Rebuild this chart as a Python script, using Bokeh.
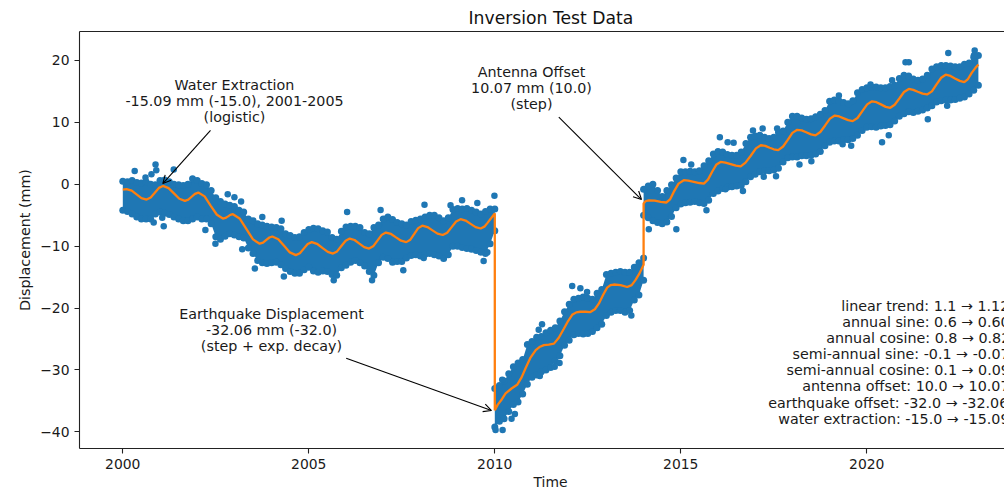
from bokeh.plotting import figure
from bokeh.models import LinearAxis, FixedTicker, Arrow, OpenHead, Title
from bokeh.core.properties import value
from bokeh.embed import file_html
from bokeh.resources import INLINE

FONT = "DejaVu Sans"
BLUE = "#1f77b4"
ORANGE = "#ff7f0e"

# dense observation band: upper and lower reach of the dots, one column every 1/8 year
pre_eq_hi = [0.5,0.4,0.6,0.3,0.2,0.4,0.0,-0.1,
             0.6,0.7,0.4,0.0,-0.1,-0.2,0.0,0.9,
             0.6,0.1,-0.1,-1.0,-2.2,-2.8,-3.2,-3.4,
             -3.6,-4.2,-4.5,-5.6,-5.9,-6.4,-6.6,-6.8,
             -6.9,-7.0,-7.2,-8.0,-8.3,-8.6,-8.5,-7.8,
             -7.3,-7.1,-7.2,-7.5,-7.7,-8.6,-8.9,-7.6,
             -6.9,-6.8,-6.8,-7.0,-7.8,-8.0,-7.0,-6.6,
             -5.6,-5.3,-5.7,-6.2,-6.4,-6.6,-6.0,-5.8,
             -5.6,-5.3,-5.0,-5.0,-5.4,-5.9,-5.4,-4.1,
             -3.9,-4.0,-3.9,-4.2,-4.5,-4.8,-4.4,-4.0,
             -4.0]
pre_eq_lo = [-4.2,-4.4,-4.8,-5.3,-5.6,-5.6,-5.6,-4.8,
             -4.5,-4.7,-4.9,-5.3,-5.6,-5.9,-5.9,-5.6,
             -5.3,-5.6,-5.6,-6.4,-8.5,-8.9,-8.4,-8.0,
             -8.2,-8.5,-8.7,-10.3,-11.2,-12.3,-12.7,-12.8,
             -12.7,-12.6,-13.0,-13.6,-14.1,-14.4,-14.4,-13.8,
             -13.4,-14.0,-14.2,-14.0,-14.1,-14.6,-14.7,-13.5,
             -13.1,-12.6,-12.3,-12.7,-13.2,-14.1,-14.7,-12.7,
             -11.8,-12.0,-12.6,-12.5,-12.5,-11.9,-11.5,-11.4,
             -11.6,-11.3,-11.2,-11.4,-11.6,-12.0,-11.4,-10.0,
             -10.0,-10.2,-10.4,-10.5,-10.7,-11.0,-11.2,-9.6,
             -7.5]
post_eq_hi = [-33.0,-32.5,-31.8,-30.6,-29.5,-28.9,-28.3,-25.9,
              -25.4,-24.7,-24.6,-24.0,-23.6,-23.2,-22.1,-20.6,
              -19.4,-18.6,-18.4,-18.2,-18.4,-18.6,-17.6,-17.0,
              -14.6,-14.4,-14.2,-14.1,-14.2,-14.2,-13.4,-12.7,
              -11.9]
post_eq_lo = [-39.2,-38.3,-37.9,-36.7,-35.6,-35.2,-33.9,-32.3,
              -31.2,-30.8,-30.3,-30.0,-29.6,-28.5,-27.7,-26.0,
              -25.2,-24.3,-24.1,-24.2,-24.1,-23.8,-23.2,-22.6,
              -21.2,-20.7,-20.4,-20.4,-20.7,-20.4,-18.7,-17.9,
              -15.5]
post_ant_hi = [-0.8,-0.3,0.0,-1.0,-2.0,-1.0,-0.1,1.0,
               2.0,2.0,2.1,2.0,2.2,3.0,3.8,4.9,
               5.3,5.2,4.8,4.7,4.7,5.2,6.6,7.6,
               7.8,7.9,7.6,7.4,7.6,8.4,8.6,10.0,
               11.0,11.0,10.7,10.5,10.6,10.9,11.3,11.9,
               13.4,13.6,13.5,13.2,13.0,13.5,14.8,15.3,
               15.6,15.7,15.7,15.6,15.6,15.8,16.0,17.1,
               17.6,17.5,17.0,16.8,17.0,17.6,18.6,19.0,
               19.2,19.2,19.1,19.0,19.0,19.4,19.6,20.5,
               20.8]
post_ant_lo = [-5.0,-5.4,-5.9,-6.2,-6.4,-6.1,-5.2,-3.8,
               -3.2,-3.0,-2.9,-2.8,-3.0,-3.1,-2.6,-1.5,
               -1.1,-0.7,-0.5,-0.4,-0.3,-0.2,0.4,1.2,
               1.6,2.0,2.2,2.2,2.3,2.6,3.6,4.3,
               4.4,4.4,4.6,4.6,4.7,4.9,5.3,6.2,
               6.8,7.0,7.0,7.2,7.2,7.4,7.9,8.7,
               9.2,9.3,9.2,9.4,9.5,9.6,10.2,11.0,
               11.4,11.7,11.6,11.8,12.0,12.3,12.7,13.3,
               13.5,13.6,13.6,13.7,13.9,14.1,14.6,15.2,
               16.0]
pre_eq_t = [2000 + k / 8 for k in range(len(pre_eq_hi))]
post_eq_t = [2010 + k / 8 for k in range(len(post_eq_hi))]
post_ant_t = [2014 + k / 8 for k in range(len(post_ant_hi))]

# isolated dots outside the band
out_t = [2000.32,2000.88,2000.9,2000.61,2000.77,2001.37,2001.1,2001.06,2000.83,2002.82,2003.0,2003.18,
         2003.75,2004.27,2003.21,2002.49,2006.03,2006.93,2008.11,2008.81,2009.12,2009.53,2009.99,
         2005.67,2006.7,2007.54,2008.09,2009.7,2009.8,2004.33,2003.55,2002.22,
         2012.08,2012.3,2012.48,2011.27,2011.18,2011.74,2011.61,2011.21,2013.67,2010.54,2010.45,
         2010.02,2010.21,2010.2,
         2014.14,2014.88,2015.07,2015.28,2016.05,2016.26,2016.42,2016.94,2017.2,2017.59,2018.19,
         2018.51,2017.56,2017.23,2016.67,2016.2,2015.69,2019.25,2020.41,2020.59,2019.58,2019.35,
         2021.04,2021.13,2022.19,2022.9,2022.88,2022.16,2021.64,2020.68,2020.1]
out_y = [2.15,3.2,2.25,1.1,1.6,2.4,-6.8,-5.4,-6.2,-1.6,-2.1,-2.8,
         -5.3,-5.9,-10.5,-9.6,-4.5,-4.15,-3.3,-3.4,-2.6,-3.05,-1.85,
         -15.5,-15.5,-13.9,-11.9,-12.4,-11.0,-14.9,-13.6,-7.4,
         -16.45,-16.8,-17.4,-22.6,-23.5,-28.9,-29.5,-31.0,-21.2,-37.1,-37.9,
         -39.7,-39.7,-31.6,
         -7.26,-7.26,3.9,3.2,7.6,6.8,6.7,8.7,9.0,9.0,3.2,
         3.7,1.3,1.2,-1.1,-0.8,-4.2,14.35,6.8,7.9,6.2,6.45,
         19.7,19.7,21.2,21.6,20.8,12.7,10.5,16.8,16.1]

# fitted curve
fit_t = [2000.0,2000.1,2000.24,2000.37,2000.5,2000.64,2000.75,2000.86,2000.97,2001.08,2001.23,2001.375,2001.52,2001.67,
         2001.76,2001.85,2001.94,2002.03,2002.2,2002.36,2002.53,2002.69,2002.76,2002.83,2002.89,2002.96,2003.14,2003.32,
         2003.5,2003.68,2003.77,2003.85,2003.94,2004.02,2004.18,2004.335,2004.49,2004.65,2004.76,2004.865,2004.97,2005.08,
         2005.22,2005.365,2005.51,2005.65,2005.76,2005.875,2005.99,2006.1,2006.23,2006.36,2006.49,2006.62,2006.73,2006.845,
         2006.96,2007.07,2007.21,2007.345,2007.48,2007.62,2007.73,2007.835,2007.94,2008.05,2008.19,2008.325,2008.46,2008.6,
         2008.72,2008.84,2008.96,2009.08,2009.215,2009.35,2009.485,2009.62,2009.72,2009.81,2009.9,2010.0,
         2010.0,2010.08,2010.17,2010.29,2010.45,2010.6,2010.72,2010.83,2010.96,2011.1,2011.2,2011.32,2011.45,2011.59,2011.72,
         2011.86,2011.97,2012.08,2012.19,2012.3,2012.44,2012.57,2012.69,2012.8,2012.91,2013.02,2013.11,2013.2,2013.38,2013.56,
         2013.68,2013.78,2013.89,2014.0,
         2014.0,2014.05,2014.14,2014.3,2014.46,2014.61,2014.71,2014.81,2014.94,2015.08,2015.2,2015.35,2015.5,2015.62,2015.73,
         2015.85,2015.96,2016.07,2016.2,2016.34,2016.48,2016.61,2016.74,2016.88,2017.02,2017.15,2017.27,2017.39,2017.5,2017.62,
         2017.75,2017.88,2018.0,2018.13,2018.25,2018.37,2018.5,2018.62,2018.75,2018.88,2019.01,2019.14,2019.26,2019.38,2019.5,
         2019.62,2019.75,2019.88,2020.01,2020.14,2020.26,2020.38,2020.51,2020.63,2020.75,2020.88,2021.0,2021.13,2021.25,2021.37,
         2021.5,2021.62,2021.75,2021.87,2022.0,2022.12,2022.25,2022.37,2022.5,2022.62,2022.72,2022.82,2022.92,2023.0]
fit_y = [-0.86,-0.8,-1.04,-1.63,-2.23,-2.47,-2.14,-1.37,-0.59,-0.27,-0.63,-1.48,-2.34,-2.69,
         -2.49,-2.02,-1.55,-1.35,-1.96,-3.45,-4.93,-5.54,-5.44,-5.19,-4.94,-4.84,-5.53,-7.22,
         -8.91,-9.6,-9.43,-9.02,-8.61,-8.44,-8.88,-9.95,-11.01,-11.45,-11.15,-10.4,-9.65,-9.35,
         -9.62,-10.28,-10.93,-11.2,-10.85,-9.98,-9.12,-8.77,-9.01,-9.59,-10.16,-10.4,-10.03,-9.1,
         -8.18,-7.8,-8.03,-8.58,-9.12,-9.35,-8.96,-8.03,-7.09,-6.7,-6.92,-7.45,-7.98,-8.2,
         -7.83,-6.93,-6.02,-5.65,-5.87,-6.4,-6.93,-7.15,-6.85,-6.2,-5.5,-4.7,
         -36.5,-35.6,-34.9,-33.8,-33.0,-32.4,-31.2,-29.7,-28.0,-26.8,-26.3,-26.0,-25.9,-25.75,-24.8,
         -23.3,-22.1,-21.1,-20.7,-20.6,-20.6,-20.65,-20.2,-19.25,-17.9,-16.7,-16.3,-16.2,-16.3,-16.6,
         -16.3,-15.5,-14.4,-13.0,
         -3.1,-2.75,-2.6,-2.65,-2.85,-2.95,-2.45,-1.24,0.1,0.65,0.6,0.4,0.2,0.1,0.75,
         2.1,3.2,3.6,3.5,3.25,3.0,2.9,3.5,4.6,5.8,6.3,6.2,5.9,5.65,5.5,
         6.1,7.2,8.3,8.8,8.7,8.4,8.05,7.9,8.45,9.5,10.6,11.1,10.95,10.65,10.35,
         10.2,10.7,11.8,12.9,13.4,13.25,12.9,12.5,12.35,12.85,13.9,14.9,15.4,15.25,14.95,
         14.65,14.5,15.0,16.1,17.2,17.7,17.5,17.1,16.7,16.5,17.0,18.0,18.8,19.35]

x_ticks = [2000, 2005, 2010, 2015, 2020]
y_ticks = [-40, -30, -20, -10, 0, 10, 20]
title_text = "Inversion Test Data"
x_label = "Time"
y_label = "Displacement (mm)"
param_lines = ["linear trend: 1.1 \u2192 1.12", "annual sine: 0.6 \u2192 0.60",
               "annual cosine: 0.8 \u2192 0.82", "semi-annual sine: -0.1 \u2192 -0.07",
               "semi-annual cosine: 0.1 \u2192 0.09", "antenna offset: 10.0 \u2192 10.07",
               "earthquake offset: -32.0 \u2192 -32.06", "water extraction: -15.0 \u2192 -15.09"]
notes = ["Water Extraction\n-15.09 mm (-15.0), 2001-2005\n(logistic)",
         "Antenna Offset\n10.07 mm (10.0)\n(step)",
         "Earthquake Displacement\n-32.06 mm (-32.0)\n(step + exp. decay)"]

# page-pixel to data conversion of the reference's layout
def dx(px): return 2000 + (px - 122.3) / 37.2
def dy(py): return (184 - py) / 6.2

p = figure(width=1004, height=489, output_backend="svg", toolbar_location=None,
           x_range=(dx(79), dx(1004)), y_range=(dy(448.7), dy(31)),
           min_border_left=79, min_border_right=0, min_border_top=31, min_border_bottom=40)
p.grid.visible = False
p.outline_line_color = None
p.background_fill_color = "white"
p.border_fill_color = "white"

for ax, ticks, ov in ((p.xaxis[0], x_ticks, {t: str(t) for t in x_ticks}),
                      (p.yaxis[0], y_ticks, {t: str(t).replace("-", "\u2212") for t in y_ticks})):
    ax.ticker = FixedTicker(ticks=ticks)
    ax.major_label_overrides = ov
    ax.major_label_text_font = FONT
    ax.major_label_text_font_size = "13.9px"
    ax.major_label_text_color = "#1a1a1a"
    ax.major_tick_in = 0
    ax.major_tick_out = 5
    ax.minor_tick_in = 0
    ax.minor_tick_out = 0
    ax.axis_line_color = "#222222"
    ax.major_tick_line_color = "#222222"
    ax.axis_line_width = 1.1
    ax.major_tick_line_width = 1.1
    ax.major_label_standoff = 5
p.yaxis[0].axis_label = y_label
p.yaxis[0].axis_label_text_font = FONT
p.yaxis[0].axis_label_text_font_size = "14.3px"
p.yaxis[0].axis_label_text_font_style = "normal"
p.yaxis[0].axis_label_text_color = "#1a1a1a"
p.yaxis[0].axis_label_standoff = 4

top = LinearAxis(ticker=FixedTicker(ticks=[]), major_tick_in=0, major_tick_out=0, minor_tick_in=0, minor_tick_out=0,
                 axis_line_color="#222222", axis_line_width=1.1, major_label_text_font_size="0px",
                 major_label_standoff=0)
p.add_layout(top, "above")

p.title.text = title_text
p.title.text_font = FONT
p.title.text_font_size = "17.2px"
p.title.text_font_style = "normal"
p.title.text_color = "#111111"
p.title.align = "left"
p.title.offset = 389
p.title.standoff = 7

p.add_layout(Title(text=x_label, align="left", offset=454, text_font=FONT, text_font_size="13.9px",
                   text_font_style="normal", text_color="#1a1a1a", standoff=0), "below")

for t, lo, hi in ((pre_eq_t, pre_eq_lo, pre_eq_hi), (post_eq_t, post_eq_lo, post_eq_hi), (post_ant_t, post_ant_lo, post_ant_hi)):
    p.varea(x=t, y1=lo, y2=hi, fill_color=BLUE)
    p.scatter(t, hi, size=7, fill_color=BLUE, line_color=None)
    p.scatter(t, lo, size=7, fill_color=BLUE, line_color=None)
p.scatter(out_t, out_y, size=6.5, fill_color=BLUE, line_color=None)
p.line(fit_t, fit_y, line_color=ORANGE, line_width=2.3)

# annotations
for (sx, sy, ex, ey) in ((210, 130, 162.3, 183.3), (558.3, 116.7, 641, 199.3), (345.7, 358.3, 491, 410.7)):
    p.add_layout(Arrow(end=OpenHead(size=8, line_width=1.1, line_color="black"),
                       x_start=dx(sx), y_start=dy(sy), x_end=dx(ex), y_end=dy(ey),
                       line_color="black", line_width=1.1))
p.text(x=[dx(234), dx(531), dx(271)], y=[dy(101), dy(88), dy(330)], text=notes,
       text_align="center", text_baseline="middle", text_font=value(FONT), text_font_size="14.3px",
       text_color="#1a1a1a", text_line_height=1.0)
p.text(x=[dx(px) for px in (840.7, 841.7, 825.7, 792, 786, 801.7, 767.7, 777.7)],
       y=[dy(py) for py in (305.7, 322, 338.3, 354.3, 370.3, 386.3, 402.7, 419)],
       text=param_lines, text_align="left", text_baseline="middle",
       text_font=value(FONT), text_font_size="14.3px", text_color="#1a1a1a")

open("out.html", "w").write(file_html(p, INLINE))
